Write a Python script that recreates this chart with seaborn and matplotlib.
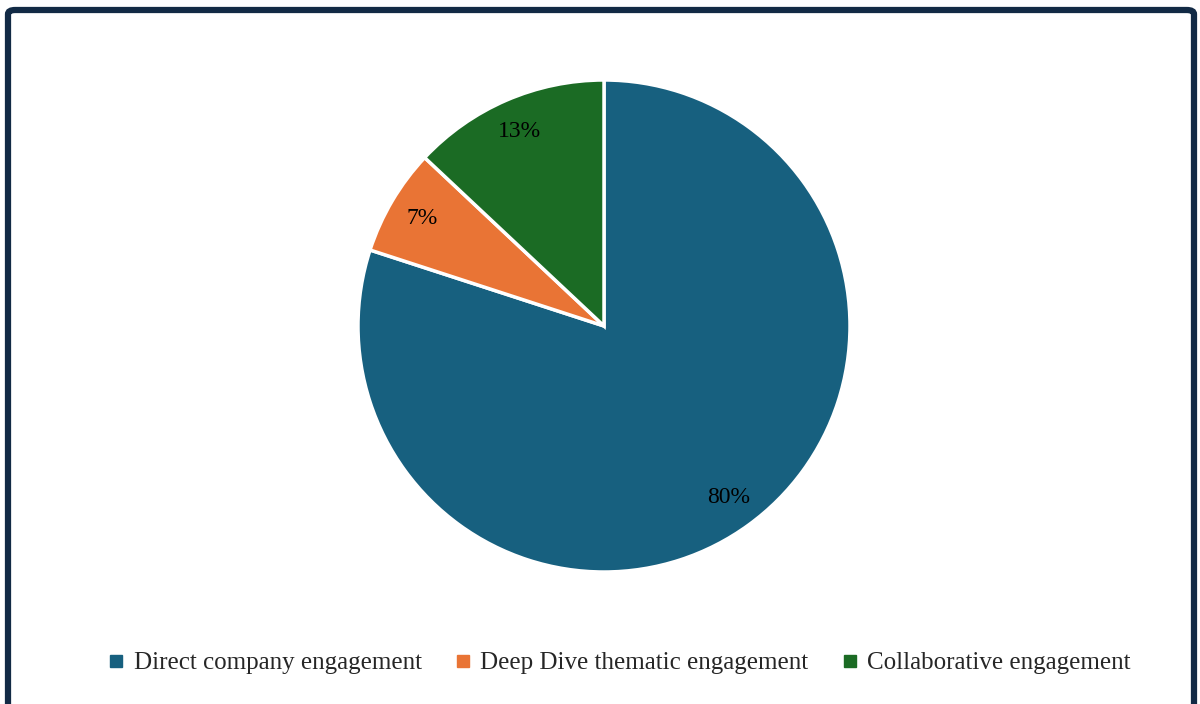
import matplotlib
matplotlib.use("Agg")
import matplotlib.pyplot as plt
from matplotlib.patches import FancyBboxPatch
from matplotlib.lines import Line2D
import seaborn as sns

categories = ["Direct company engagement", "Deep Dive thematic engagement", "Collaborative engagement"]
shares = [80, 7, 13]
colors = ["#17607f", "#e97435", "#1b6b24"]

sns.set_style("white")
plt.rcParams["font.family"] = ["Liberation Serif", "DejaVu Serif"]

fig = plt.figure(figsize=(12, 7.04), dpi=100)
W, H = 1200, 704

# pie axes: centre (604, 326), radius ~246 px
r = 246
cx, cy = 604, 326
ax = fig.add_axes([(cx - r) / W, 1 - (cy + r) / H, 2 * r / W, 2 * r / H])
wedges, texts, autotexts = ax.pie(
    shares, colors=colors, startangle=90, counterclock=False,
    autopct=lambda p: f"{p:.0f}%", pctdistance=0.86,
    wedgeprops=dict(edgecolor="white", linewidth=2.5),
    textprops=dict(fontsize=17, color="black"), radius=1.0,
)
ax.set_xlim(-1, 1)
ax.set_ylim(-1, 1)
ax.set_aspect("equal")
ax.axis("off")

handles = [Line2D([0], [0], marker="s", linestyle="", markersize=9,
                  markerfacecolor=c, markeredgecolor=c) for c in colors]
fig.legend(handles, categories, loc="center", bbox_to_anchor=(619 / W, 1 - 663 / H),
           ncol=3, frameon=False, fontsize=18, handletextpad=0.35, columnspacing=1.3,
           handlelength=0.7)

# outer rounded frame, running off the bottom edge
frame = FancyBboxPatch((8 / W, -0.2), (1194 - 8) / W, (1 - 10 / H) + 0.2,
                       boxstyle="round,pad=0,rounding_size=0.006",
                       transform=fig.transFigure, fill=False,
                       edgecolor="#122a45", linewidth=4.5, zorder=10)
fig.patches.append(frame)

fig.savefig("out.png", dpi=100)
